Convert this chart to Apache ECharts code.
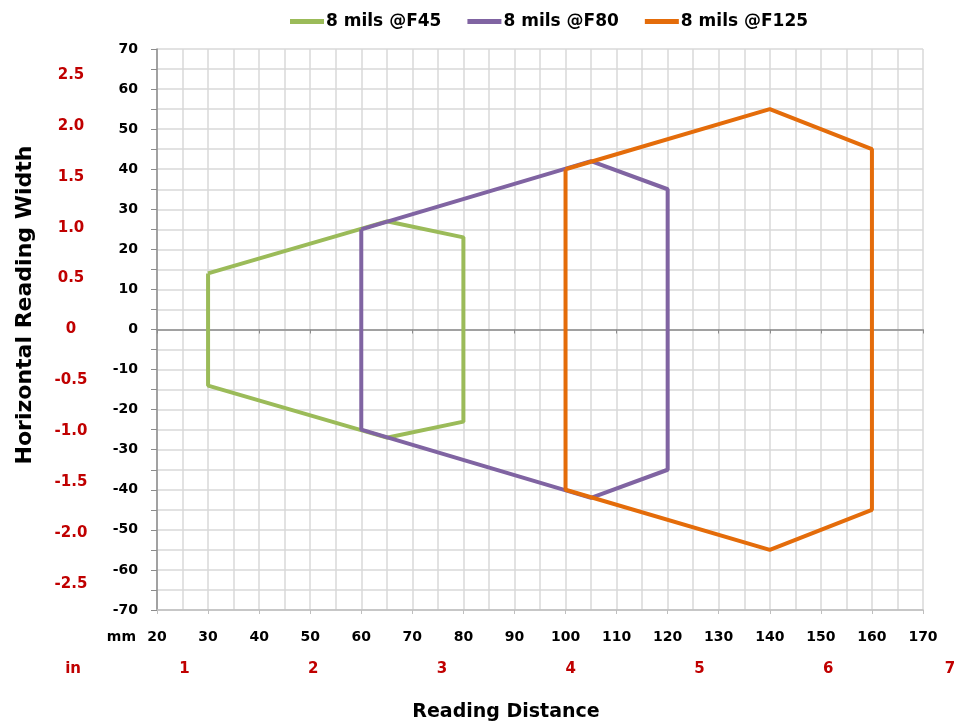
<!DOCTYPE html>
<html><head><meta charset="utf-8">
<script src="https://cdn.jsdelivr.net/npm/echarts@6/dist/echarts.min.js"></script>
<style>html,body{margin:0;padding:0;background:#fff}#c{width:958px;height:722px}</style>
</head><body><div id="c"></div>
<script>
const seriesNames = ['8 mils @F45', '8 mils @F80', '8 mils @F125'];
const f45X = [30, 65, 80, 80, 65, 30, 30];
const f45Y = [14, 27, 23, -23, -27, -14, 14];
const f80X = [60, 105, 120, 120, 105, 60, 60];
const f80Y = [25, 42, 35, -35, -42, -25, 25];
const f125X = [100, 140, 160, 160, 140, 100, 100];
const f125Y = [40, 55, 45, -45, -55, -40, 40];
const inchXTicks = [1, 2, 3, 4, 5, 6, 7];
const inchYTicks = [-2.5, -2, -1.5, -1, -0.5, 0, 0.5, 1, 1.5, 2, 2.5];
const MM_PER_IN = 25.4;

const colors = ['#9bbb59', '#8064a2', '#e46c0a'];
const pair = (xs, ys) => xs.map((x, i) => [x, ys[i]]);
const FONT = '"DejaVu Sans", sans-serif';
const RED = '#c00000';
const chart = echarts.init(document.getElementById('c'));
const mkSeries = (name, xs, ys, c) => ({
  name, type: 'line', xAxisIndex: 1, yAxisIndex: 0, data: pair(xs, ys),
  showSymbol: false, symbol: 'none', lineStyle: { width: 4, color: c }, itemStyle: { color: c },
  animation: false, z: 5
});
chart.setOption({
  animation: false,
  color: colors,
  legend: {
    top: 8, left: 285, itemWidth: 34, itemHeight: 5, itemGap: 26,
    icon: 'rect',
    textStyle: { fontFamily: FONT, fontWeight: 'bold', fontSize: 17, color: '#000', padding: [0, 0, 0, -3] },
    data: seriesNames
  },
  grid: [
    { left: 157, right: 35, top: 49, bottom: 112, containLabel: false, outerBoundsMode: 'none' },
    { left: 157, right: 1, top: 49, bottom: 112, containLabel: false, outerBoundsMode: 'none' }
  ],
  xAxis: [
    { // zero line
      type: 'value', gridIndex: 0, min: 20, max: 170, interval: 10,
      axisLine: { onZero: true, lineStyle: { color: '#8c8c8c', width: 1.5 } },
      axisTick: { show: true, inside: false, length: 4, lineStyle: { color: '#8c8c8c' } },
      axisLabel: { show: false }, splitLine: { show: false }, z: 3
    },
    { // mm axis
      type: 'value', gridIndex: 0, min: 20, max: 170, interval: 10, position: 'bottom',
      name: 'mm', nameLocation: 'start', nameGap: 21,
      nameTextStyle: { fontFamily: FONT, fontWeight: 'bold', fontSize: 14, color: '#000', verticalAlign: 'top', padding: [20, 0, 0, 0] },
      axisLine: { onZero: false, lineStyle: { color: '#bfbfbf', width: 1.5 } },
      axisTick: { show: true, length: 4, lineStyle: { color: '#bfbfbf' } },
      axisLabel: { margin: 20, fontFamily: FONT, fontWeight: 'bold', fontSize: 14, color: '#000' },
      splitLine: { show: true, lineStyle: { color: '#d9d9d9', width: 1.5 } },
      minorTick: { show: false, splitNumber: 2 },
      minorSplitLine: { show: true, lineStyle: { color: '#d9d9d9', width: 1.5 } }
    },
    { // inch axis
      type: 'value', gridIndex: 1, min: 20 / MM_PER_IN, max: 7, position: 'bottom',
      name: 'in', nameLocation: 'start', nameGap: 76,
      nameTextStyle: { fontFamily: FONT, fontWeight: 'bold', fontSize: 15, color: RED, verticalAlign: 'top', padding: [52, 0, 0, 0] },
      axisLine: { show: false, onZero: false }, axisTick: { show: false }, splitLine: { show: false },
      axisLabel: {
        margin: 52, fontFamily: FONT, fontWeight: 'bold', fontSize: 15, color: RED,
        customValues: inchXTicks, showMaxLabel: true,
        formatter: v => (v === 7 ? '{r|7}' : String(v)),
        rich: { r: { fontFamily: FONT, fontWeight: 'bold', fontSize: 15, color: RED, padding: [0, 14, 0, 0] } }
      }
    },
    { // title carrier
      type: 'value', gridIndex: 0, min: 20, max: 170, position: 'bottom',
      name: 'Reading Distance', nameLocation: 'middle', nameGap: 93,
      nameTextStyle: { fontFamily: FONT, fontWeight: 'bold', fontSize: 19, color: '#000', padding: [0, 68, 0, 0] },
      axisLine: { show: false, onZero: false }, axisTick: { show: false }, axisLabel: { show: false }, splitLine: { show: false }
    }
  ],
  yAxis: [
    {
      type: 'value', gridIndex: 0, min: -70, max: 70, interval: 10,
      name: 'Horizontal Reading Width', nameLocation: 'middle', nameGap: 121,
      nameTextStyle: { fontFamily: FONT, fontWeight: 'bold', fontSize: 22, color: '#000', padding: [0, 0, 0, 49] },
      axisLine: { show: true, onZero: false, lineStyle: { color: '#8c8c8c', width: 1.5 } },
      axisTick: { show: true, length: 6, lineStyle: { color: '#8c8c8c' } },
      minorTick: { show: true, splitNumber: 2, length: 6, lineStyle: { color: '#8c8c8c' } },
      axisLabel: { margin: 19, fontFamily: FONT, fontWeight: 'bold', fontSize: 14, color: '#000' },
      splitLine: { show: true, lineStyle: { color: '#d9d9d9', width: 1.5 } },
      minorSplitLine: { show: true, lineStyle: { color: '#d9d9d9', width: 1.5 } }
    },
    {
      type: 'value', gridIndex: 0, position: 'left', min: -70 / MM_PER_IN, max: 70 / MM_PER_IN,
      axisLine: { show: false, onZero: false }, axisTick: { show: false }, splitLine: { show: false },
      axisLabel: {
        margin: 86, align: 'center', fontFamily: FONT, fontWeight: 'bold', fontSize: 15, color: RED,
        customValues: inchYTicks,
        formatter: v => (Math.abs(v) < 1e-9 ? '0' : v.toFixed(1))
      }
    },
    {
      type: 'value', gridIndex: 1, min: 0, max: 1, show: false
    }
  ],
  series: [
    mkSeries(seriesNames[0], f45X, f45Y, colors[0]),
    mkSeries(seriesNames[1], f80X, f80Y, colors[1]),
    mkSeries(seriesNames[2], f125X, f125Y, colors[2])
  ]
});
</script></body></html>
